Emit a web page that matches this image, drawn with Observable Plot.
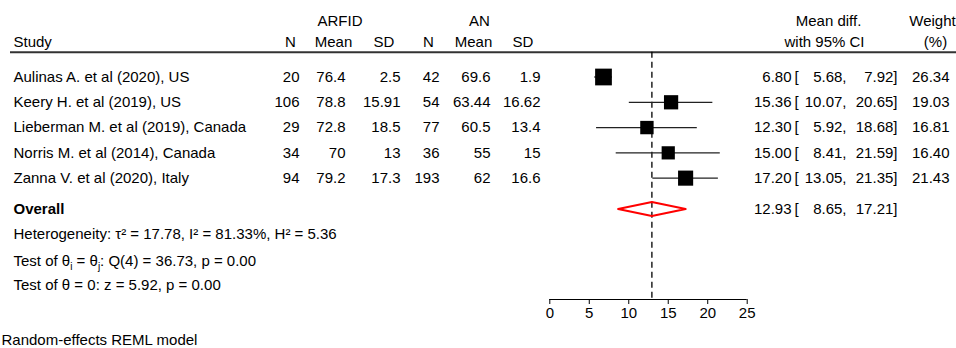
<!DOCTYPE html>
<html><head><meta charset="utf-8">
<script src="https://cdn.jsdelivr.net/npm/d3@7"></script>
<script src="https://cdn.jsdelivr.net/npm/@observablehq/plot@0.6"></script>
<style>body{margin:0;background:#fff}</style>
</head><body><div id="chart"></div>
<script>
// ---- data ----
const studies = ["Aulinas A. et al (2020), US", "Keery H. et al (2019), US", "Lieberman M. et al (2019), Canada", "Norris M. et al (2014), Canada", "Zanna V. et al (2020), Italy"];
const arfidN = [20, 106, 29, 34, 94];
const arfidMean = [76.4, 78.8, 72.8, 70, 79.2];
const arfidSD = [2.5, 15.91, 18.5, 13, 17.3];
const anN = [42, 54, 77, 36, 193];
const anMean = [69.6, 63.44, 60.5, 55, 62];
const anSD = [1.9, 16.62, 13.4, 15, 16.6];
const meanDiff = [6.80, 15.36, 12.30, 15.00, 17.20];
const ciLow = [5.68, 10.07, 5.92, 8.41, 13.05];
const ciHigh = [7.92, 20.65, 18.68, 21.59, 21.35];
const weights = [26.34, 19.03, 16.81, 16.40, 21.43];
const overall = {label: "Overall", est: 12.93, lo: 8.65, hi: 17.21};
const notes = [
  "Heterogeneity: \u03c4\u00b2 = 17.78, I\u00b2 = 81.33%, H\u00b2 = 5.36",
  "Test of \u03b8i = \u03b8j: Q(4) = 36.73, p = 0.00",
  "Test of \u03b8 = 0: z = 5.92, p = 0.00"
];
const caption = "Random-effects REML model";
const xTicks = [0, 5, 10, 15, 20, 25];

// ---- layout (row units) ----
const W = 956, H = 348, ML = 10;
const overallRow = 5.22, noteRows = [6.23, 7.30, 8.25], captionRow = 10.42;
const headRow1 = -2.215, headRow2 = -1.384, headLineRow = -0.98, axisRow = 8.8;

const rows = studies.map((s, i) => ({
  study: s, row: i, n1: arfidN[i], m1: arfidMean[i], s1: arfidSD[i],
  n2: anN[i], m2: anMean[i], s2: anSD[i],
  est: meanDiff[i], lo: ciLow[i], hi: ciHigh[i], w: weights[i]
}));
const ovRow = [{...overall, row: overallRow}];
const dh = 0.28;
const diamond = [
  {x: overall.lo, y: overallRow}, {x: overall.est, y: overallRow - dh},
  {x: overall.hi, y: overallRow}, {x: overall.est, y: overallRow + dh},
  {x: overall.lo, y: overallRow}
];

function col(data, px, text, anchor, extra = {}) {
  return Plot.text(data, {frameAnchor: "left", dx: px - ML, y: "row", text, textAnchor: anchor, fill: "black", ...extra});
}
function head(label, px, row, anchor = "middle") {
  return Plot.text([{row, label}], {frameAnchor: "left", dx: px - ML, y: "row", text: "label", textAnchor: anchor, fill: "black"});
}
const f2 = v => v.toFixed(2);

const chart = Plot.plot({
  width: W, height: H,
  marginTop: 0, marginLeft: ML, marginRight: 0, marginBottom: H - 299,
  style: {fontFamily: "'Liberation Sans', Arial, Helvetica, sans-serif", fontSize: "15px", background: "white", color: "black"},
  x: {domain: [0, 25], range: [549.3, 746.7], label: null},
  y: {domain: [0, axisRow], range: [76.5, 299], axis: null},
  r: {type: "sqrt", range: [0, 9.45]},
  marks: [
    Plot.ruleY([headLineRow], {y: d => d, stroke: "#333", strokeWidth: 2}),
    Plot.ruleX([overall.est], {x: d => d, y1: headLineRow, y2: axisRow, stroke: "black", strokeWidth: 1.3, strokeDasharray: "6,4"}),
    Plot.ruleY(rows, {y: "row", x1: "lo", x2: "hi", stroke: "#222", strokeWidth: 1.2}),
    Plot.dot(rows, {x: "est", y: "row", r: "w", symbol: "square", fill: "black", stroke: "none"}),
    Plot.line(diamond, {x: "x", y: "y", stroke: "red", strokeWidth: 2, curve: "linear"}),
    Plot.ruleY([axisRow], {y: d => d, x1: xTicks[0], x2: xTicks[xTicks.length - 1], stroke: "black", strokeWidth: 1.2}),
    Plot.axisX({ticks: xTicks, tickSize: 5, tickPadding: 3, label: null, fontSize: 15, stroke: "black", fill: "black"}),
    // headers
    head("ARFID", 339.5, headRow1), head("AN", 479, headRow1),
    head("Mean diff.", 828, headRow1), head("Weight", 932, headRow1),
    head("Study", 13, headRow2, "start"),
    head("N", 290, headRow2), head("Mean", 333, headRow2), head("SD", 383.5, headRow2),
    head("N", 428, headRow2), head("Mean", 473, headRow2), head("SD", 522.5, headRow2),
    head("with 95% CI", 824, headRow2), head("(%)", 935, headRow2),
    // study columns
    col(rows, 13, "study", "start"),
    col(rows, 299, "n1", "end"), col(rows, 345, "m1", "end"), col(rows, 400, "s1", "end"),
    col(rows, 439, "n2", "end"), col(rows, 490, "m2", "end"), col(rows, 540, "s2", "end"),
    col(rows, 791, d => f2(d.est), "end"), col(rows, 794, () => "[", "start"),
    col(rows, 846, d => f2(d.lo) + ",", "end"), col(rows, 897, d => f2(d.hi) + "]", "end"),
    col(rows, 949, d => f2(d.w), "end"),
    // overall
    col(ovRow, 13, "label", "start", {fontWeight: "bold"}),
    col(ovRow, 791, d => f2(d.est), "end"), col(ovRow, 794, () => "[", "start"),
    col(ovRow, 846, d => f2(d.lo) + ",", "end"), col(ovRow, 897, d => f2(d.hi) + "]", "end"),
    // notes
    Plot.text(notes.map((t, i) => ({t, row: noteRows[i]})), {frameAnchor: "left", dx: 3, y: "row", text: "t", textAnchor: "start", fill: "black"}),
    Plot.text([{t: caption, row: captionRow}], {frameAnchor: "left", dx: -9, y: "row", text: "t", textAnchor: "start", fill: "black"})
  ]
});

// subscripts for θi / θj
for (const t of chart.querySelectorAll("text")) {
  if (t.textContent.startsWith("Test of \u03b8i")) {
    const parts = [["Test of \u03b8", 0], ["i", 1], [" = \u03b8", -1], ["j", 1], [": Q(4) = 36.73, p = 0.00", -1]];
    t.textContent = "";
    for (const [s, sh] of parts) {
      const ts = document.createElementNS("http://www.w3.org/2000/svg", "tspan");
      ts.textContent = s;
      if (sh === 1) { ts.setAttribute("dy", "4"); ts.setAttribute("font-size", "10px"); }
      if (sh === -1) ts.setAttribute("dy", "-4");
      t.appendChild(ts);
    }
  }
}
document.getElementById("chart").appendChild(chart);
</script>
</body></html>
